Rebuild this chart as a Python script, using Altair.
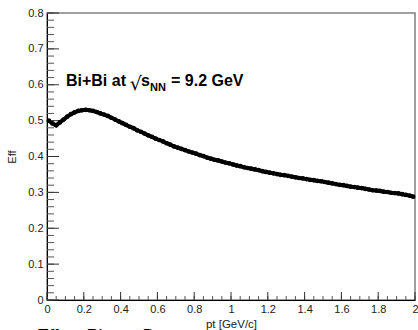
import altair as alt
import pandas as pd
import numpy as np

# ---- data ----
pt = [0.01, 0.03, 0.05, 0.07, 0.09, 0.11, 0.13, 0.15, 0.17, 0.19,
      0.21, 0.23, 0.25, 0.27, 0.29, 0.31, 0.33, 0.35, 0.37, 0.39,
      0.41, 0.43, 0.45, 0.47, 0.49, 0.51, 0.53, 0.55, 0.57, 0.59,
      0.61, 0.63, 0.65, 0.67, 0.69, 0.71, 0.73, 0.75, 0.77, 0.79,
      0.81, 0.83, 0.85, 0.87, 0.89, 0.91, 0.93, 0.95, 0.97, 0.99,
      1.01, 1.03, 1.05, 1.07, 1.09, 1.11, 1.13, 1.15, 1.17, 1.19,
      1.21, 1.23, 1.25, 1.27, 1.29, 1.31, 1.33, 1.35, 1.37, 1.39,
      1.41, 1.43, 1.45, 1.47, 1.49, 1.51, 1.53, 1.55, 1.57, 1.59,
      1.61, 1.63, 1.65, 1.67, 1.69, 1.71, 1.73, 1.75, 1.77, 1.79,
      1.81, 1.83, 1.85, 1.87, 1.89, 1.91, 1.93, 1.95, 1.97, 1.99]
eff = [0.500, 0.492, 0.487, 0.495, 0.503, 0.511, 0.518, 0.523, 0.527, 0.529,
       0.530, 0.529, 0.527, 0.524, 0.520, 0.517, 0.513, 0.508, 0.503, 0.498,
       0.493, 0.488, 0.483, 0.479, 0.473, 0.469, 0.464, 0.459, 0.455, 0.450,
       0.446, 0.442, 0.437, 0.433, 0.428, 0.425, 0.421, 0.418, 0.414, 0.411,
       0.408, 0.404, 0.401, 0.397, 0.394, 0.391, 0.389, 0.386, 0.383, 0.381,
       0.378, 0.375, 0.373, 0.370, 0.368, 0.366, 0.364, 0.362, 0.359, 0.357,
       0.355, 0.353, 0.351, 0.349, 0.348, 0.346, 0.344, 0.342, 0.340, 0.339,
       0.337, 0.335, 0.334, 0.332, 0.331, 0.329, 0.327, 0.325, 0.323, 0.321,
       0.320, 0.318, 0.316, 0.315, 0.313, 0.312, 0.310, 0.308, 0.306, 0.305,
       0.304, 0.302, 0.301, 0.299, 0.298, 0.297, 0.295, 0.293, 0.291, 0.288]

x_major = [0, 0.2, 0.4, 0.6, 0.8, 1.0, 1.2, 1.4, 1.6, 1.8, 2.0]
y_major = [0, 0.1, 0.2, 0.3, 0.4, 0.5, 0.6, 0.7, 0.8]
x_minor = [round(v, 3) for v in np.arange(0, 2.0001, 0.05)]
y_minor = [round(v, 3) for v in np.arange(0, 0.8001, 0.02)]

# annotation pieces (text, anchor in data units)
ann_text = ["Bi+Bi at", "s", "= 9.2 GeV"]
ann_x = [0.103, 0.511, 0.674]
ann_y = [0.596, 0.596, 0.596]
sub_text = ["NN"]
sub_x = [0.560]
sub_y = [0.582]
rad_text = ["\u221a"]
rad_x = [0.450]
rad_y = [0.586]
bottom_text = ["Eff vs Plot at Data"]
bottom_x = [-0.055]
bottom_y = [-0.116]

W, H = 368, 287
FONT = "Liberation Sans"

df = pd.DataFrame({"pt": pt, "eff": eff})

xs = alt.Scale(domain=[0, 2], nice=False, zero=False)
ys = alt.Scale(domain=[0, 0.8], nice=False, zero=False)

xax = alt.Axis(values=x_major, format="~g", ticks=False, grid=False, labelOverlap=False,
               domainColor="black", domainWidth=1, labelFont=FONT, labelFontSize=11,
               labelColor="#222", labelPadding=3, labelFlush=False,
               title="pt [GeV/c]", titleFont=FONT, titleFontSize=11.5,
               titleFontWeight="normal", titleColor="#222", titlePadding=4)
yax = alt.Axis(values=y_major, format="~g", ticks=False, grid=False, labelOverlap=False,
               domainColor="black", domainWidth=1, labelFont=FONT, labelFontSize=11,
               labelColor="#222", labelPadding=4, labelFlush=False,
               title="Eff", titleFont=FONT, titleFontSize=11,
               titleFontWeight="normal", titleColor="#222", titlePadding=10)

def X(f):
    return alt.X(f, scale=xs, axis=xax, title="pt [GeV/c]")

def Y(f):
    return alt.Y(f, scale=ys, axis=yax, title="Eff")

base = alt.Chart(df)
line = base.mark_line(color="black", strokeWidth=4).encode(x=X("pt:Q"), y=Y("eff:Q"))
pts = base.mark_circle(color="black", size=22, opacity=1).encode(x=X("pt:Q"), y=Y("eff:Q"))

ymaj = alt.Chart(pd.DataFrame({"v": y_major})).mark_rule(color="#333", strokeWidth=1).encode(
    y=Y("v:Q"), x=alt.value(0), x2=alt.value(12))
ymin = alt.Chart(pd.DataFrame({"v": y_minor})).mark_rule(color="#555", strokeWidth=1).encode(
    y=Y("v:Q"), x=alt.value(0), x2=alt.value(7))
xmaj = alt.Chart(pd.DataFrame({"v": x_major})).mark_rule(color="#333", strokeWidth=1).encode(
    x=X("v:Q"), y=alt.value(H), y2=alt.value(H - 8))
xmin = alt.Chart(pd.DataFrame({"v": x_minor})).mark_rule(color="#555", strokeWidth=1).encode(
    x=X("v:Q"), y=alt.value(H), y2=alt.value(H - 4))

ann = alt.Chart(pd.DataFrame({"t": ann_text, "x": ann_x, "y": ann_y})).mark_text(
    font=FONT, fontSize=16, fontWeight="bold", align="left", baseline="alphabetic",
    color="black").encode(x=X("x:Q"), y=Y("y:Q"), text="t:N")
sub = alt.Chart(pd.DataFrame({"t": sub_text, "x": sub_x, "y": sub_y})).mark_text(
    font=FONT, fontSize=11, fontWeight="bold", align="left", baseline="alphabetic",
    color="black").encode(x=X("x:Q"), y=Y("y:Q"), text="t:N")
rad = alt.Chart(pd.DataFrame({"t": rad_text, "x": rad_x, "y": rad_y})).mark_text(
    font="DejaVu Sans", fontSize=19, fontWeight="normal", align="left", baseline="alphabetic",
    color="black").encode(x=X("x:Q"), y=Y("y:Q"), text="t:N")
bot = alt.Chart(pd.DataFrame({"t": bottom_text, "x": bottom_x, "y": bottom_y})).mark_text(
    font=FONT, fontSize=18, align="left", baseline="alphabetic", color="black"
).encode(x=X("x:Q"), y=Y("y:Q"), text="t:N")

chart = alt.layer(line, ymin, ymaj, xmin, xmaj, pts, ann, sub, rad, bot).properties(
    width=W, height=H,
    autosize=alt.AutoSizeParams(type="none"),
    padding={"left": 47, "top": 13, "right": 3, "bottom": 30},
    background="white",
).configure_view(stroke="#808080", strokeWidth=1.5)

chart.save("out.html", embed_options={"renderer": "svg", "actions": False})
